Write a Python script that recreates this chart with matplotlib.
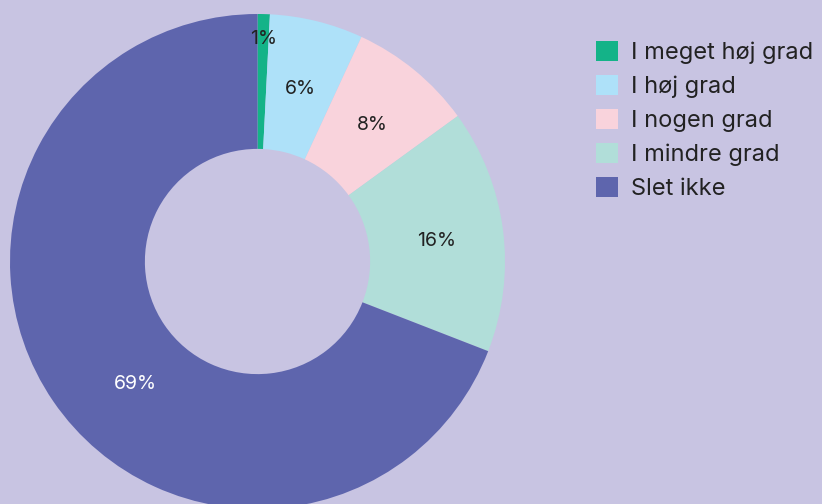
import numpy as np
import matplotlib
matplotlib.use("Agg")
import matplotlib.pyplot as plt

plt.rcParams['font.family'] = ['Inter', 'DejaVu Sans']

categories = ["I meget høj grad", "I høj grad", "I nogen grad", "I mindre grad", "Slet ikke"]
values = [0.8, 6.1, 8.1, 15.9, 69.1]
colors = ["#14b388", "#aee1f9", "#f9d3dc", "#b1ded9", "#5e65ad"]
text_colors = ["#222222", "#222222", "#222222", "#222222", "#ffffff"]

bg = "#c8c4e2"
fig = plt.figure(figsize=(8.22, 5.04), dpi=100, facecolor=bg)
ax = fig.add_axes([10 / 822, -5 / 504, 495 / 822, 495 / 504])
ax.set_facecolor(bg)

wedges, texts, autotexts = ax.pie(
    values, colors=colors, startangle=90, counterclock=False,
    autopct="%.0f%%", pctdistance=0.73,
    wedgeprops=dict(width=0.545, linewidth=0),
    textprops=dict(fontsize=14),
)
for t, c in zip(autotexts, text_colors):
    t.set_color(c)
    x, y = t.get_position()
    t.set_position((x, y - 0.012))

# the tiny first slice has its label pushed outward
w = wedges[0]
ang = np.deg2rad((w.theta1 + w.theta2) / 2)
autotexts[0].set_position((0.9 * np.cos(ang), 0.9 * np.sin(ang)))
# the big slice label sits lower-left
ang = np.deg2rad(225)
autotexts[4].set_position((0.70 * np.cos(ang), 0.70 * np.sin(ang)))

ax.set_xlim(-1, 1)
ax.set_ylim(-1, 1)
ax.set_aspect("equal")
ax.axis("off")

leg = fig.legend(
    wedges, categories, loc="upper left", bbox_to_anchor=(596 / 822, 1 - 41 / 504),
    frameon=False, fontsize=17, handlelength=0.95, handleheight=0.95,
    handletextpad=0.55, labelspacing=0.45, borderaxespad=0, borderpad=0,
)
for t in leg.get_texts():
    t.set_color("#222222")

fig.savefig("out.png", dpi=100, facecolor=bg)
